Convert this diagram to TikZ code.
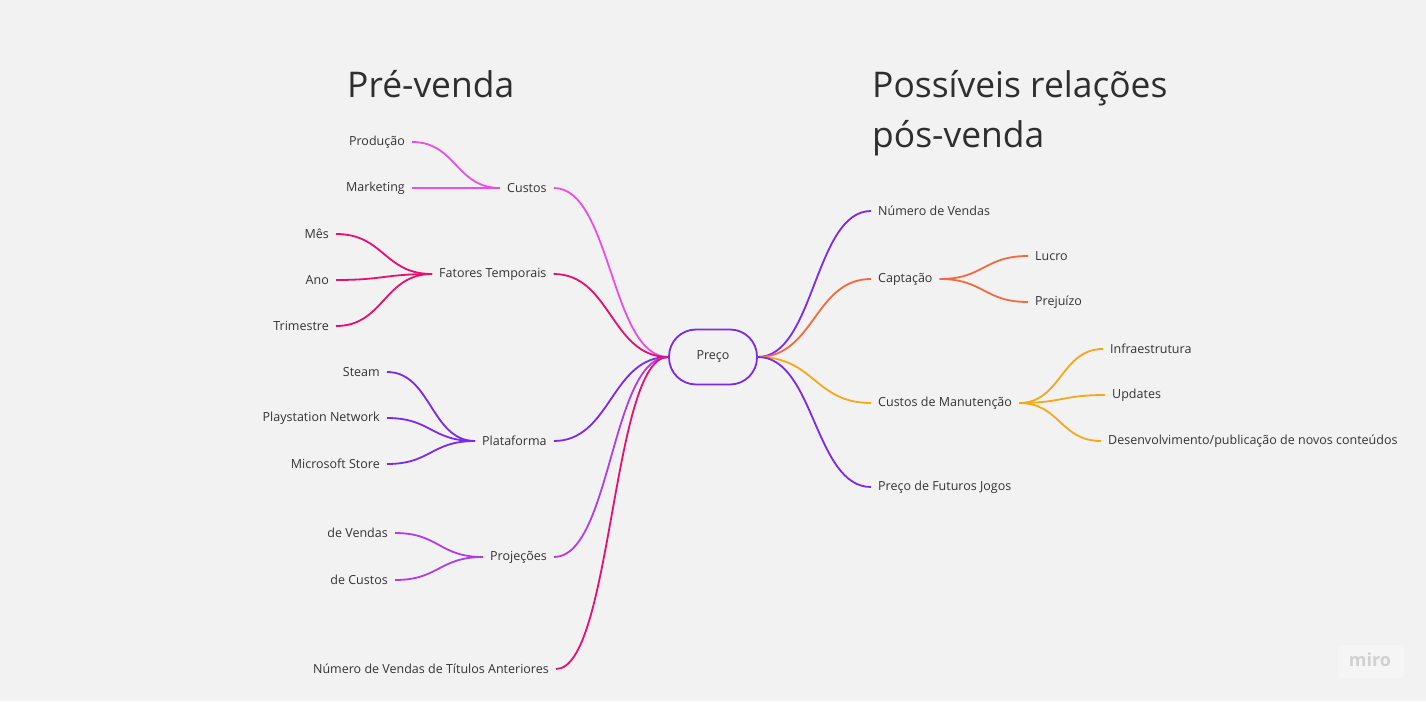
\documentclass[tikz,border=0pt]{standalone}
\usepackage{fontspec}
\setmainfont{Open Sans}
\usepackage{tikz}
\usetikzlibrary{calc}

\definecolor{fundo}{HTML}{F2F2F2}
\definecolor{texto}{HTML}{333333}
\definecolor{rosa}{HTML}{EA4FE2}
\definecolor{carmim}{HTML}{E6106E}
\definecolor{roxo}{HTML}{7C2AE8}
\definecolor{violeta}{HTML}{B03DEA}
\definecolor{laranja}{HTML}{F26B3E}
\definecolor{ambar}{HTML}{F5A818}

\begin{document}
\begin{tikzpicture}[x=1pt,y=-1pt,
		rotulo/.style={inner xsep=7pt,inner ysep=2pt,yshift=-1pt,text=texto,font=\fontsize{12.5}{15}\selectfont},
		folha/.style={rotulo,anchor=east},
		ramo/.style={rotulo,anchor=west},
		titulo/.style={anchor=base west,inner sep=0pt,text=texto!90!black,font=\fontsize{35.4}{50}\selectfont},
		liga/.style={line width=1.8pt,to path={let \p1=(\tikztostart),\p2=(\tikztotarget) in
			.. controls ({(\x1+\x2)/2},\y1) and ({(\x1+\x2)/2},\y2) .. (\tikztotarget)}}]
			\fill[fundo] (0,0) rectangle (1426,701);
			\node[titulo] (pre) at (347,97) {Pré-venda};
			\node[titulo] (pos1) at (872,97) {Possíveis relações};
			\node[titulo] (pos2) at (872,147) {pós-venda};
			\node[draw=roxo,line width=1.8pt,rounded corners=27pt,minimum width=88pt,minimum height=55pt,text=texto,font=\fontsize{12.5}{15}\selectfont] (preco) at (713,357) {Preço};
			% pré-venda
			\node[ramo] (custos) at (500,187) {Custos};
			\node[folha] (producao) at (412,141) {Produção};
			\node[folha] (marketing) at (412,187) {Marketing};
			\node[ramo] (fatores) at (432,273) {Fatores Temporais};
			\node[folha] (mes) at (336,233) {Mês};
			\node[folha] (ano) at (336,279) {Ano};
			\node[folha] (trimestre) at (336,325) {Trimestre};
			\node[ramo] (plataforma) at (475,440) {Plataforma};
			\node[folha] (steam) at (387,371) {Steam};
			\node[folha] (psn) at (387,417) {Playstation Network};
			\node[folha] (microsoft) at (387,463) {Microsoft Store};
			\node[ramo] (projecoes) at (483,556) {Projeções};
			\node[folha] (pvendas) at (395,532) {de Vendas};
			\node[folha] (pcustos) at (395,579) {de Custos};
			\node[folha] (anteriores) at (556,668) {Número de Vendas de Títulos Anteriores};
			% pós-venda
			\node[ramo] (nvendas) at (871,210) {Número de Vendas};
			\node[ramo] (captacao) at (871,278) {Captação};
			\node[ramo] (lucro) at (1028,255) {Lucro};
			\node[ramo] (prejuizo) at (1028,301) {Prejuízo};
			\node[ramo] (manutencao) at (871,402) {Custos de Manutenção};
			\node[ramo] (infra) at (1103,348) {Infraestrutura};
			\node[ramo] (updates) at (1105,394) {Updates};
			\node[ramo] (desenv) at (1101,440) {Desenvolvimento/publicação de novos conteúdos};
			\node[ramo] (futuros) at (871,486) {Preço de Futuros Jogos};
			% ligações
			\foreach \a/\b/\c in {producao/custos/rosa,marketing/custos/rosa,custos/preco/rosa,
				mes/fatores/carmim,ano/fatores/carmim,trimestre/fatores/carmim,fatores/preco/carmim,
				steam/plataforma/roxo,psn/plataforma/roxo,microsoft/plataforma/roxo,plataforma/preco/roxo,
				pvendas/projecoes/violeta,pcustos/projecoes/violeta,projecoes/preco/violeta,
				anteriores/preco/carmim}
				\draw[liga,\c] (\a.east) to (\b.west);
			\foreach \a/\b/\c in {preco/nvendas/roxo,preco/captacao/laranja,captacao/lucro/laranja,captacao/prejuizo/laranja,
				preco/manutencao/ambar,manutencao/infra/ambar,manutencao/updates/ambar,manutencao/desenv/ambar,
				preco/futuros/roxo}
				\draw[liga,\c] (\a.east) to (\b.west);
			% marca
			\fill[white,opacity=0.25,rounded corners=3pt] (1338,645) rectangle (1404,678);
			\node[text=black!18,font=\fontsize{18}{20}\selectfont\bfseries] (miro) at (1370,660) {miro};
		\end{tikzpicture}
\end{document}
